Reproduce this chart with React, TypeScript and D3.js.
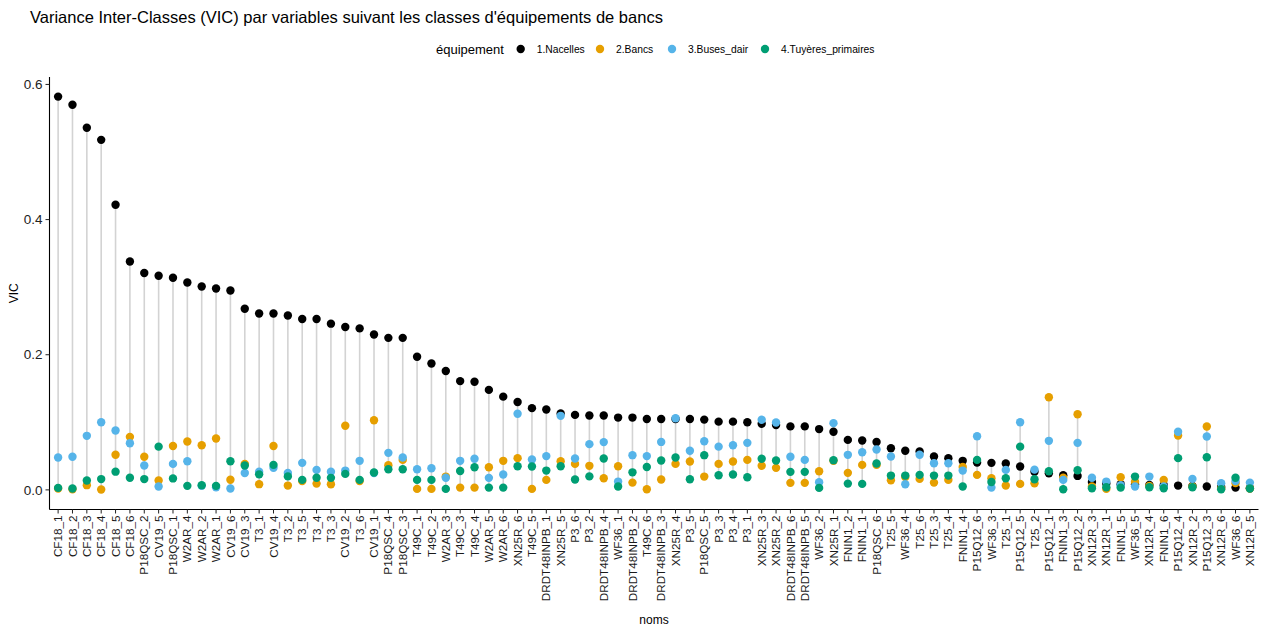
import * as d3 from "d3"

const categories = [
  "CF18_1", "CF18_2", "CF18_3", "CF18_4", "CF18_5", "CF18_6", "P18QSC_2", "CV19_5", "P18QSC_1", "W2AR_4",
  "W2AR_2", "W2AR_1", "CV19_6", "CV19_3", "T3_1", "CV19_4", "T3_2", "T3_5", "T3_4", "T3_3",
  "CV19_2", "T3_6", "CV19_1", "P18QSC_4", "P18QSC_3", "T49C_1", "T49C_2", "W2AR_3", "T49C_3", "T49C_4",
  "W2AR_5", "W2AR_6", "XN25R_6", "T49C_5", "DRDT48INPB_1", "XN25R_5", "P3_6", "P3_2", "DRDT48INPB_4", "WF36_1",
  "DRDT48INPB_2", "T49C_6", "DRDT48INPB_3", "XN25R_4", "P3_5", "P18QSC_5", "P3_3", "P3_4", "P3_1", "XN25R_3",
  "XN25R_2", "DRDT48INPB_6", "DRDT48INPB_5", "WF36_2", "XN25R_1", "FNIN1_2", "FNIN1_1", "P18QSC_6", "T25_5", "WF36_4",
  "T25_6", "T25_3", "T25_4", "FNIN1_4", "P15Q12_6", "WF36_3", "T25_1", "P15Q12_5", "T25_2", "P15Q12_1",
  "FNIN1_3", "P15Q12_2", "XN12R_3", "XN12R_1", "FNIN1_5", "WF36_5", "XN12R_4", "FNIN1_6", "P15Q12_4", "XN12R_2",
  "P15Q12_3", "XN12R_6", "WF36_6", "XN12R_5",
]

const nacelles = [
  0.582, 0.57, 0.536, 0.518, 0.422, 0.338, 0.321, 0.317, 0.314, 0.307,
  0.301, 0.298, 0.295, 0.268, 0.261, 0.261, 0.258, 0.253, 0.253, 0.246,
  0.241, 0.239, 0.23, 0.225, 0.225, 0.197, 0.187, 0.176, 0.161, 0.16,
  0.148, 0.138, 0.13, 0.121, 0.119, 0.113, 0.111, 0.11, 0.11, 0.107,
  0.107, 0.105, 0.105, 0.105, 0.105, 0.104, 0.101, 0.101, 0.1, 0.098,
  0.096, 0.094, 0.094, 0.09, 0.086, 0.074, 0.073, 0.071, 0.0617, 0.058,
  0.057, 0.0494, 0.047, 0.043, 0.0405, 0.04, 0.039, 0.0346, 0.027, 0.0247,
  0.0217, 0.0207, 0.0118, 0.0095, 0.0085, 0.008, 0.0074, 0.0068, 0.0064, 0.0058,
  0.005, 0.0042, 0.0034, 0.0025,
]

const bancs = [
  0.002, 0.001, 0.007, 0.0005, 0.052, 0.0785, 0.049, 0.014, 0.065, 0.0716,
  0.066, 0.076, 0.015, 0.0385, 0.0085, 0.065, 0.0064, 0.013, 0.0093, 0.0084,
  0.095, 0.013, 0.103, 0.0365, 0.0444, 0.0015, 0.0015, 0.0197, 0.0034, 0.0034,
  0.0336, 0.043, 0.047, 0.0015, 0.0148, 0.0425, 0.0385, 0.0356, 0.0173, 0.035,
  0.0108, 0.001, 0.0153, 0.0385, 0.042, 0.0197, 0.0385, 0.042, 0.0444, 0.0356,
  0.0326, 0.0104, 0.0104, 0.0277, 0.043, 0.0252, 0.037, 0.037, 0.0143, 0.019,
  0.0163, 0.0108, 0.0148, 0.034, 0.0222, 0.0173, 0.0064, 0.0089, 0.0099, 0.137,
  0.018, 0.112, 0.005, 0.0015, 0.0188, 0.012, 0.006, 0.0148, 0.0805, 0.005,
  0.0938, 0.002, 0.01, 0.002,
]

const busesDair = [
  0.048, 0.049, 0.08, 0.1, 0.088, 0.069, 0.036, 0.005, 0.0385, 0.0425,
  0.006, 0.004, 0.002, 0.025, 0.027, 0.0326, 0.025, 0.04, 0.0296, 0.027,
  0.0286, 0.043, 0.025, 0.0548, 0.048, 0.0306, 0.032, 0.018, 0.043, 0.046,
  0.0178, 0.0227, 0.1126, 0.045, 0.05, 0.1096, 0.0464, 0.0677, 0.0707, 0.0123,
  0.0514, 0.05, 0.071, 0.106, 0.058, 0.072, 0.064, 0.066, 0.0696, 0.1037,
  0.0997, 0.049, 0.0444, 0.0114, 0.0988, 0.0519, 0.0558, 0.0598, 0.0494, 0.0084,
  0.052, 0.0395, 0.0395, 0.0286, 0.0795, 0.0034, 0.0296, 0.1, 0.03, 0.0726,
  0.0148, 0.0696, 0.018, 0.0123, 0.007, 0.005, 0.0197, 0.005, 0.086, 0.0163,
  0.079, 0.0099, 0.013, 0.0108,
]

const tuyeres = [
  0.003, 0.002, 0.014, 0.016, 0.027, 0.018, 0.016, 0.064, 0.017, 0.006,
  0.007, 0.006, 0.0425, 0.036, 0.023, 0.037, 0.02, 0.0148, 0.018, 0.0178,
  0.0237, 0.0148, 0.0257, 0.0306, 0.0306, 0.0148, 0.0148, 0.0015, 0.028, 0.0336,
  0.0034, 0.0034, 0.035, 0.0346, 0.0286, 0.035, 0.0153, 0.02, 0.0464, 0.005,
  0.026, 0.034, 0.0434, 0.048, 0.0158, 0.0514, 0.0217, 0.0227, 0.0188, 0.046,
  0.0434, 0.0267, 0.0267, 0.003, 0.044, 0.0093, 0.0089, 0.039, 0.0212, 0.0212,
  0.0222, 0.0212, 0.0212, 0.005, 0.0444, 0.0118, 0.0173, 0.064, 0.0158, 0.0277,
  0.001, 0.029, 0.0025, 0.004, 0.0034, 0.0197, 0.004, 0.0025, 0.047, 0.004,
  0.0484, 0.001, 0.018, 0.002,
]

const seriesNames = ["1.Nacelles", "2.Bancs", "3.Buses_dair", "4.Tuyères_primaires"]
const seriesColors = ["#000000", "#E69F00", "#56B4E9", "#009E73"]
const yTicks = [0, 0.2, 0.4, 0.6]

const font = "'Liberation Sans', Arial, Helvetica, sans-serif"

export default function App() {
  const width = 1263
  const height = 628
  const panel = { left: 49.5, right: 1258.5, top: 77, bottom: 509.5 }

  const x = d3.scalePoint<string>().domain(categories).range([panel.left, panel.right]).padding(0.6)
  const y = d3.scaleLinear().domain([-0.029, 0.611]).range([panel.bottom, panel.top])

  const series = [nacelles, bancs, busesDair, tuyeres]
  const legendX = [520.7, 600, 672, 765]

  return (
    <svg
      width={width}
      height={height}
      style={{ position: "absolute", left: 0, top: 0, background: "#fff" }}
      fontFamily={font}
    >
      {/* title */}
      <text x={30} y={23} fontSize={16.5} fill="#000">
        Variance Inter-Classes (VIC) par variables suivant les classes d'équipements de bancs
      </text>

      {/* legend */}
      <text x={436} y={53.5} fontSize={13} fill="#000">équipement</text>
      {seriesNames.map((name, i) => (
        <g key={name}>
          <circle cx={legendX[i]} cy={49} r={4.2} fill={seriesColors[i]} />
          <text x={legendX[i] + 16} y={52.5} fontSize={10.3} fill="#000">{name}</text>
        </g>
      ))}

      {/* segments min -> max */}
      {categories.map((c, i) => {
        const vals = series.map((s) => s[i])
        return (
          <line
            key={"seg" + c}
            x1={x(c)}
            x2={x(c)}
            y1={y(d3.min(vals)!)}
            y2={y(d3.max(vals)!)}
            stroke="#d3d3d3"
            strokeWidth={1.6}
          />
        )
      })}

      {/* points */}
      {series.map((s, k) => (
        <g key={"s" + k}>
          {s.map((v, i) => (
            <circle key={i} cx={x(categories[i])} cy={y(v)} r={4.2} fill={seriesColors[k]} />
          ))}
        </g>
      ))}

      {/* axes */}
      <line x1={panel.left} x2={panel.left} y1={panel.top} y2={panel.bottom} stroke="#000" strokeWidth={1.1} />
      <line x1={panel.left} x2={panel.right} y1={panel.bottom} y2={panel.bottom} stroke="#000" strokeWidth={1.1} />
      {yTicks.map((t) => (
        <g key={"yt" + t}>
          <line x1={panel.left - 4} x2={panel.left} y1={y(t)} y2={y(t)} stroke="#222" strokeWidth={1} />
          <text x={panel.left - 7} y={y(t)} dy="0.35em" textAnchor="end" fontSize={13.5} fill="#222">
            {d3.format(".1f")(t)}
          </text>
        </g>
      ))}
      {categories.map((c) => (
        <g key={"xt" + c}>
          <line x1={x(c)} x2={x(c)} y1={panel.bottom} y2={panel.bottom + 4} stroke="#222" strokeWidth={1} />
          <text
            transform={`translate(${x(c)},${panel.bottom + 6}) rotate(-90)`}
            textAnchor="end"
            dy="0.35em"
            fontSize={11.7}
            fill="#1a1a1a"
          >
            {c}
          </text>
        </g>
      ))}

      {/* axis titles */}
      <text x={(panel.left + panel.right) / 2} y={624} textAnchor="middle" fontSize={12} fill="#000">noms</text>
      <text transform={`translate(18,${(panel.top + panel.bottom) / 2}) rotate(-90)`} textAnchor="middle" fontSize={12} fill="#000">
        VIC
      </text>
    </svg>
  )
}
